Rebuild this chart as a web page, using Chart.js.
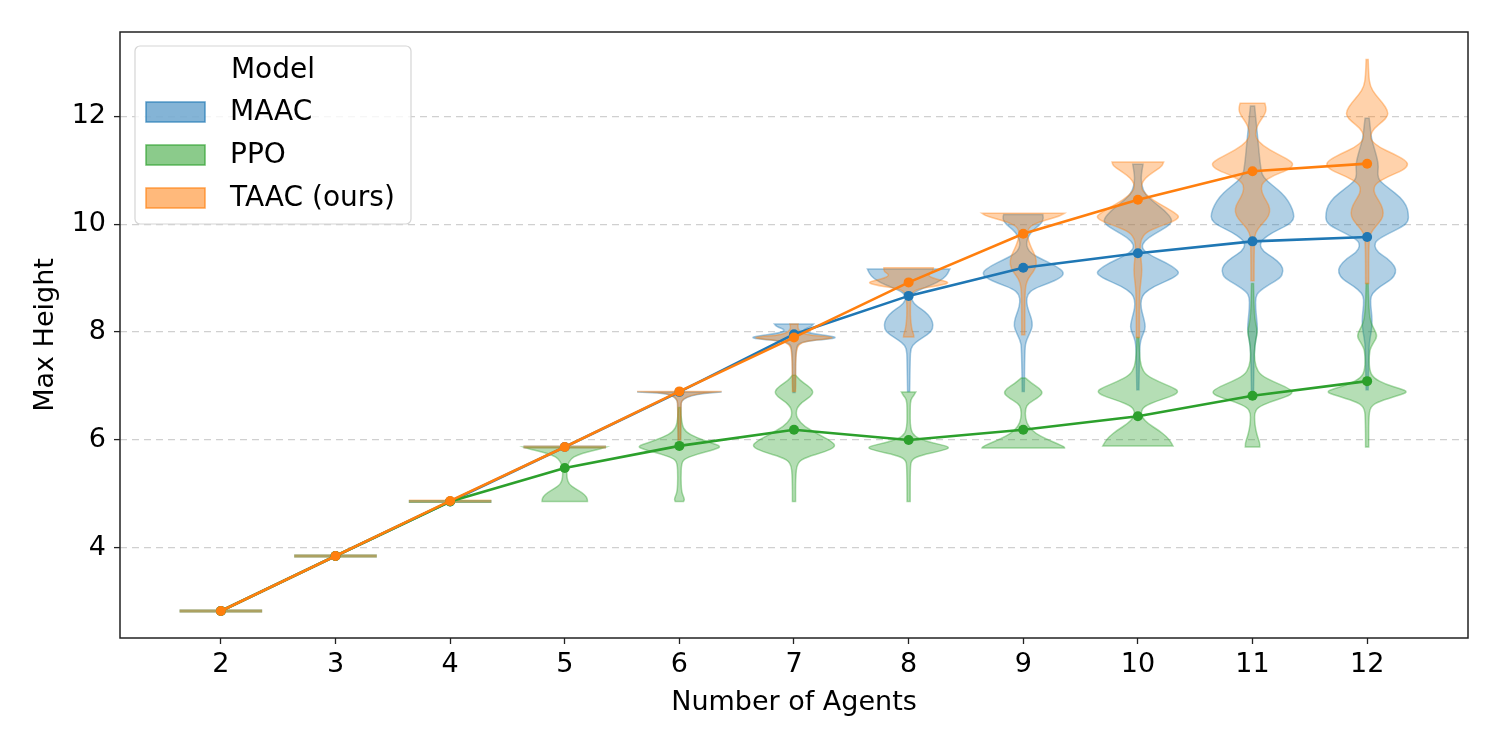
<!DOCTYPE html>
<html>
<head>
<meta charset="utf-8">
<script src="https://cdn.jsdelivr.net/npm/chart.js@4.4.0/dist/chart.umd.min.js"></script>
<style>
html,body{margin:0;padding:0;background:#fff;}
</style>
</head>
<body>
<canvas id="chart" width="1500" height="750"></canvas>
<script>
// number of agents and mean max height per model
let agents=[2,3,4,5,6,7,8,9,10,11,12];
let models=["MAAC","PPO","TAAC (ours)"];
let maacMean=[2.83,3.85,4.86,5.87,6.89,7.96,8.67,9.19,9.46,9.68,9.76];
let ppoMean=[2.83,3.85,4.86,5.48,5.89,6.19,6.00,6.19,6.44,6.82,7.09];
let taacMean=[2.83,3.85,4.87,5.87,6.90,7.90,8.92,9.82,10.45,10.98,11.12];
let yTicks=[4,6,8,10,12];

// violin profiles: [max height, relative density (peak = 40)], one list per agent count
let maacViolins=[
 [[2.83,40]],
 [[3.85,40]],
 [[4.86,40]],
 [[5.87,40]],
 [[6.89,41],[6.85,2],[6.5,1.5],[6.0,1.2]],
 [[8.15,19],[8.10,17],[8.04,8],[7.98,14],[7.92,38],[7.89,41],[7.86,28],[7.82,6],[7.7,1.5],[7.0,1.5],[6.88,1]],
 [[9.17,40],[9.08,38],[9.00,34],[8.92,28],[8.84,18],[8.76,8],[8.68,3],[8.58,3],[8.48,8],[8.38,16],[8.25,22],[8.12,24],[8.00,22],[7.90,14],[7.80,6],[7.70,2],[7.5,1.5],[6.9,1]],
 [[10.18,19],[10.10,20],[10.00,17],[9.90,10],[9.78,5],[9.65,3],[9.55,4],[9.45,8],[9.35,18],[9.22,32],[9.10,40],[9.00,36],[8.90,24],[8.80,10],[8.70,4],[8.55,3],[8.40,5],[8.25,8],[8.12,9],[8.00,7],[7.85,3],[7.7,1.5],[6.9,1]],
 [[11.11,5],[11.00,4],[10.85,3],[10.70,4],[10.55,7],[10.40,16],[10.25,26],[10.10,33],[10.00,32],[9.88,22],[9.75,10],[9.62,4],[9.52,5],[9.40,14],[9.28,28],[9.15,38],[9.08,40],[8.98,32],[8.85,16],[8.72,6],[8.60,3],[8.45,3],[8.30,5],[8.15,7],[8.05,7],[7.92,4],[7.78,2],[7.5,1.5],[6.93,1]],
 [[12.19,2],[12.0,3],[11.8,4],[11.6,5],[11.4,6],[11.2,7],[11.05,8],[10.92,9],[10.80,14],[10.65,24],[10.50,32],[10.35,37],[10.20,40],[10.08,40],[9.98,34],[9.85,20],[9.72,10],[9.62,7],[9.50,10],[9.38,20],[9.25,28],[9.12,30],[9.00,27],[8.88,16],[8.75,6],[8.65,3],[8.45,3],[8.25,4],[8.05,5],[7.85,3],[7.6,1.5],[6.9,1]],
 [[11.96,2],[11.8,3],[11.6,4],[11.4,7],[11.2,10],[11.05,11],[10.92,10],[10.80,12],[10.65,22],[10.50,32],[10.35,38],[10.20,40],[10.05,40],[9.95,34],[9.82,20],[9.70,9],[9.60,7],[9.48,10],[9.36,20],[9.22,27],[9.10,28],[8.98,24],[8.85,13],[8.72,5],[8.60,3],[8.40,4],[8.20,5],[8.00,4],[7.8,2],[7.5,1.5],[6.93,1]]
];
let ppoViolins=[
 [[2.83,40]],
 [[3.85,40]],
 [[4.86,40]],
 [[5.87,40],[5.83,34],[5.78,22],[5.72,12],[5.65,6],[5.55,3],[5.45,2],[5.30,2],[5.18,4],[5.10,10],[5.02,17],[4.95,21],[4.89,22],[4.86,22]],
 [[6.60,1],[6.30,2],[6.15,6],[6.05,16],[5.95,30],[5.88,41],[5.82,34],[5.74,18],[5.66,6],[5.58,2],[5.3,1.5],[5.05,2],[4.95,4],[4.89,5],[4.86,4]],
 [[7.20,1.5],[7.10,6],[7.00,14],[6.90,19],[6.80,16],[6.70,8],[6.60,3],[6.50,2],[6.40,3],[6.25,10],[6.10,24],[5.98,36],[5.88,41],[5.78,30],[5.68,12],[5.58,3],[5.3,1.5],[4.86,1.5]],
 [[6.89,7],[6.82,5],[6.75,2],[6.6,1.5],[6.2,1.5],[6.06,6],[5.98,16],[5.92,30],[5.86,41],[5.80,32],[5.72,12],[5.64,3],[5.5,1.5],[4.86,1.5]],
 [[7.15,2],[7.05,8],[6.95,16],[6.87,19],[6.78,14],[6.68,5],[6.58,2],[6.40,2],[6.25,5],[6.12,12],[6.02,22],[5.93,33],[5.87,40],[5.85,40]],
 [[7.9,1],[7.6,1.5],[7.35,3],[7.2,8],[7.08,20],[6.98,33],[6.90,40],[6.82,34],[6.72,18],[6.62,6],[6.52,3],[6.42,4],[6.30,10],[6.18,20],[6.06,28],[5.96,32],[5.89,34]],
 [[8.9,1],[8.4,1.5],[8.15,3],[8.0,5],[7.85,3],[7.6,1.5],[7.35,3],[7.2,8],[7.08,20],[6.98,33],[6.88,40],[6.80,33],[6.70,16],[6.60,5],[6.50,2],[6.35,2],[6.20,3],[6.05,5],[5.95,7],[5.87,7]],
 [[8.9,1],[8.5,1.5],[8.2,3],[8.05,7],[7.92,10],[7.80,6],[7.65,2],[7.3,2],[7.15,6],[7.03,18],[6.95,32],[6.89,40],[6.82,30],[6.72,12],[6.62,3],[6.4,1.5],[5.87,1.5]]
];
let taacViolins=[
 [[2.83,40]],
 [[3.85,40]],
 [[4.87,40]],
 [[5.87,40]],
 [[6.90,41],[6.86,2],[6.5,1.5],[6.0,1.2]],
 [[8.15,4],[8.05,3],[7.95,10],[7.90,41],[7.87,30],[7.82,5],[7.6,1.5],[6.9,1.5]],
 [[9.19,24],[9.12,24],[9.05,18],[8.98,26],[8.92,41],[8.86,30],[8.80,8],[8.7,2],[8.3,1.5],[8.05,3],[7.95,5],[7.91,5]],
 [[10.20,40],[10.15,36],[10.08,22],[10.00,10],[9.92,5],[9.82,4],[9.70,5],[9.55,8],[9.40,12],[9.25,13],[9.12,10],[9.00,5],[8.85,2],[8.5,1.5],[7.95,1.5]],
 [[11.15,25],[11.08,24],[11.00,18],[10.90,10],[10.80,5],[10.70,3],[10.60,5],[10.45,14],[10.30,28],[10.18,38],[10.12,40],[10.05,34],[9.95,20],[9.85,8],[9.72,3],[9.55,2],[9.35,3],[9.15,4],[8.95,3],[8.7,1.5],[7.9,1.5]],
 [[12.24,12],[12.17,13],[12.08,13],[11.98,10],[11.87,6],[11.74,3],[11.60,3],[11.45,10],[11.30,24],[11.18,36],[11.10,40],[11.00,34],[10.90,20],[10.78,10],[10.65,8],[10.50,11],[10.35,16],[10.22,17],[10.10,14],[9.98,8],[9.85,3],[9.72,2],[9.4,1.5],[8.95,1.5]],
 [[13.05,1],[12.75,1.5],[12.55,3],[12.40,8],[12.25,15],[12.10,20],[12.00,20],[11.90,15],[11.78,7],[11.65,3],[11.55,4],[11.42,12],[11.30,26],[11.18,37],[11.10,40],[11.00,35],[10.88,20],[10.75,8],[10.62,6],[10.50,9],[10.35,14],[10.20,16],[10.08,14],[9.95,8],[9.82,3],[9.70,2],[9.4,1.5],[8.9,1.5]]
];

let colors=[[31,119,180],[44,160,44],[255,127,14]];
let violinSets=[maacViolins,ppoViolins,taacViolins];
let VIOLIN_HALF=0.36;
let FONT="'DejaVu Sans', sans-serif";

function rgba(c,a){return "rgba("+c[0]+","+c[1]+","+c[2]+","+a+")";}

function smoothSide(ctx,pts,first){
    if(first) ctx.moveTo(pts[0][0],pts[0][1]); else ctx.lineTo(pts[0][0],pts[0][1]);
    for(let i=1;i<pts.length-1;i++){
        let mx=(pts[i][0]+pts[i+1][0])/2, my=(pts[i][1]+pts[i+1][1])/2;
        ctx.quadraticCurveTo(pts[i][0],pts[i][1],mx,my);
    }
    let last=pts[pts.length-1];
    ctx.lineTo(last[0],last[1]);
}

let violinPlugin={
    id:"violins",
    beforeDatasetsDraw(chart){
        let ctx=chart.ctx, xs=chart.scales.x, ys=chart.scales.y, area=chart.chartArea;
        ctx.save();
        ctx.beginPath();
        ctx.rect(area.left,area.top,area.right-area.left,area.bottom-area.top);
        ctx.clip();
        for(let m=0;m<violinSets.length;m++){
            let set=violinSets[m];
            for(let i=0;i<agents.length;i++){
                let prof=set[i];
                let cx=xs.getPixelForValue(agents[i]);
                let unit=xs.getPixelForValue(agents[i]+VIOLIN_HALF)-cx;
                if(prof.length===1){
                    let y=ys.getPixelForValue(prof[0][0]);
                    ctx.beginPath();
                    ctx.moveTo(cx-unit,y);
                    ctx.lineTo(cx+unit,y);
                    ctx.strokeStyle=rgba(colors[m],0.4);
                    ctx.lineWidth=3;
                    ctx.stroke();
                    continue;
                }
                let right=prof.map(p=>[cx+p[1]/40*unit,ys.getPixelForValue(p[0])]);
                let left=prof.map(p=>[cx-p[1]/40*unit,ys.getPixelForValue(p[0])]).reverse();
                ctx.beginPath();
                smoothSide(ctx,right,true);
                smoothSide(ctx,left,false);
                ctx.closePath();
                ctx.fillStyle=rgba(colors[m],0.35);
                ctx.fill();
                ctx.strokeStyle=rgba(colors[m],0.4);
                ctx.lineWidth=1.5;
                ctx.stroke();
            }
        }
        ctx.restore();
    }
};

let framePlugin={
    id:"frame",
    afterDraw(chart){
        let ctx=chart.ctx, a=chart.chartArea;
        ctx.save();
        ctx.strokeStyle="#222";
        ctx.lineWidth=1.5;
        ctx.strokeRect(a.left,a.top,a.right-a.left,a.bottom-a.top);

        // legend box
        let bx=135,by=46,bw=276,bh=178;
        ctx.beginPath();
        ctx.roundRect(bx,by,bw,bh,5);
        ctx.fillStyle="rgba(255,255,255,0.8)";
        ctx.fill();
        ctx.strokeStyle="#d5d5d5";
        ctx.lineWidth=1.2;
        ctx.stroke();
        ctx.fillStyle="#000";
        ctx.font="28px "+FONT;
        ctx.textAlign="center";
        ctx.textBaseline="middle";
        ctx.fillText("Model",bx+bw/2,by+25);
        ctx.textAlign="left";
        for(let i=0;i<models.length;i++){
            let yy=by+66+i*43;
            ctx.fillStyle=rgba(colors[i],0.55);
            ctx.fillRect(146,yy-10,59,20);
            ctx.strokeStyle=rgba(colors[i],0.7);
            ctx.lineWidth=1.5;
            ctx.strokeRect(146,yy-10,59,20);
            ctx.fillStyle="#000";
            ctx.fillText(models[i],230,yy+1);
        }
        ctx.restore();
    }
};

function lineSet(label,means,c,order){
    return {
        label:label,
        data:agents.map((a,i)=>({x:a,y:means[i]})),
        borderColor:rgba(c,1),
        backgroundColor:rgba(c,1),
        borderWidth:2.6,
        pointRadius:5,
        pointBorderWidth:0,
        pointBackgroundColor:rgba(c,1),
        tension:0,
        order:order
    };
}

let ctx=document.getElementById("chart").getContext("2d");
let chart=new Chart(ctx,{
    type:"line",
    data:{
        datasets:[
            lineSet(models[0],maacMean,colors[0],3),
            lineSet(models[1],ppoMean,colors[1],2),
            lineSet(models[2],taacMean,colors[2],1)
        ]
    },
    plugins:[violinPlugin,framePlugin],
    options:{
        responsive:false,
        animation:false,
        devicePixelRatio:1,
        layout:{padding:{top:32,right:32,left:0,bottom:0}},
        plugins:{legend:{display:false},tooltip:{enabled:false}},
        scales:{
            x:{
                type:"linear",
                min:1.12,max:12.88,
                afterBuildTicks(s){s.ticks=agents.map(v=>({value:v}));},
                afterFit(s){s.height=112;},
                ticks:{color:"#000",font:{family:FONT,size:27},padding:5,autoSkip:false,maxRotation:0,
                    callback:v=>String(v)},
                grid:{drawOnChartArea:false,drawTicks:true,tickLength:6,tickColor:"#222",tickWidth:1.3},
                border:{display:false},
                title:{display:true,text:"Number of Agents",color:"#000",font:{family:FONT,size:27},padding:{top:0,bottom:31}}
            },
            y:{
                type:"linear",
                min:2.33,max:13.56,
                afterBuildTicks(s){s.ticks=yTicks.map(v=>({value:v}));},
                afterFit(s){s.width=120;},
                ticks:{color:"#000",font:{family:FONT,size:27},padding:8,callback:v=>String(v)},
                grid:{color:"#d0d0d0",lineWidth:1.2,tickLength:6,tickColor:"#222",tickWidth:1.3,tickBorderDash:[]},
                border:{display:false,dash:[7,5]},
                title:{display:true,text:"Max Height",color:"#000",font:{family:FONT,size:27},padding:{top:30,bottom:0}}
            }
        }
    }
});
</script>
</body>
</html>
